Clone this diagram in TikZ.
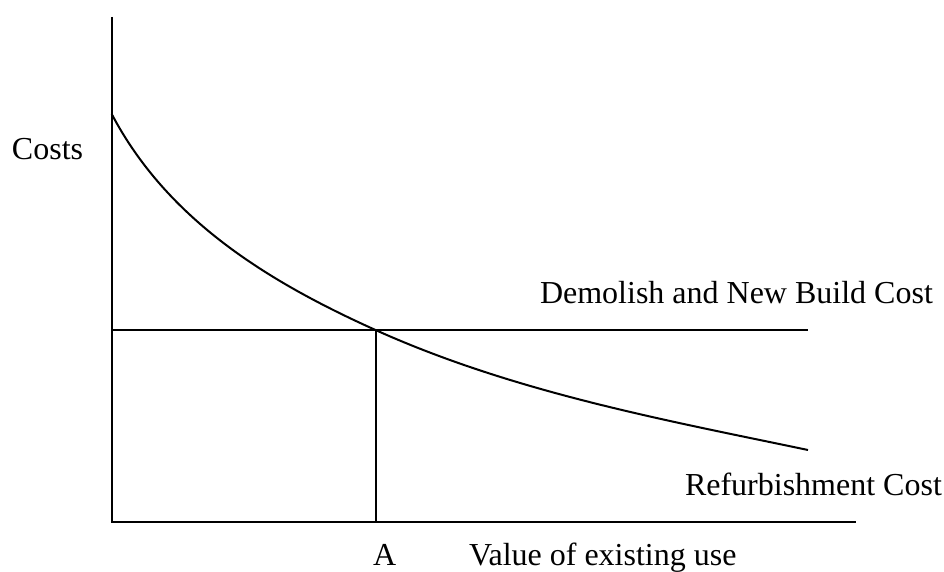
\documentclass[tikz,border=0pt]{standalone}
\usepackage{fontspec}
\setmainfont{Liberation Serif}
\begin{document}
\begin{tikzpicture}[x=1pt,y=-1pt,line width=2pt,
    lbl/.style={anchor=base west,inner sep=0pt,font=\fontsize{32}{38}\selectfont}]
        \useasboundingbox (0,0) rectangle (944,572);
        \coordinate (O) at (111.5,522);
        \coordinate (ytop) at (111.5,17);
        \coordinate (xend) at (856,522);
        \coordinate (X) at (375.5,330);
        \coordinate (Dleft) at (111.5,330);
        \coordinate (Dend) at (808,330);
        \coordinate (Afoot) at (375.5,522);
        \coordinate (Rtop) at (111.7,114);
        \coordinate (Rend) at (808,450);
        % axes
        \draw (ytop) -- (O) -- (xend);
        % demolish line and A
        \draw (Dleft) -- (Dend);
        \draw (X) -- (Afoot);
        % refurbishment curve
        \draw (Rtop) .. controls (166.7,218.5) and (265.5,280.5) .. (X)
              .. controls (515.5,393) and (668,420.6) .. (Rend);
        \node[lbl] (costs) at (11,160) {Costs};
        \node[lbl] (demolish) at (539,303) {Demolish and New Build Cost};
        \node[lbl] (refurb) at (684,495) {Refurbishment Cost};
        \node[lbl] (A) at (372,565) {A};
        \node[lbl] (value) at (468,565) {Value of existing use};
    \end{tikzpicture}
\end{document}
